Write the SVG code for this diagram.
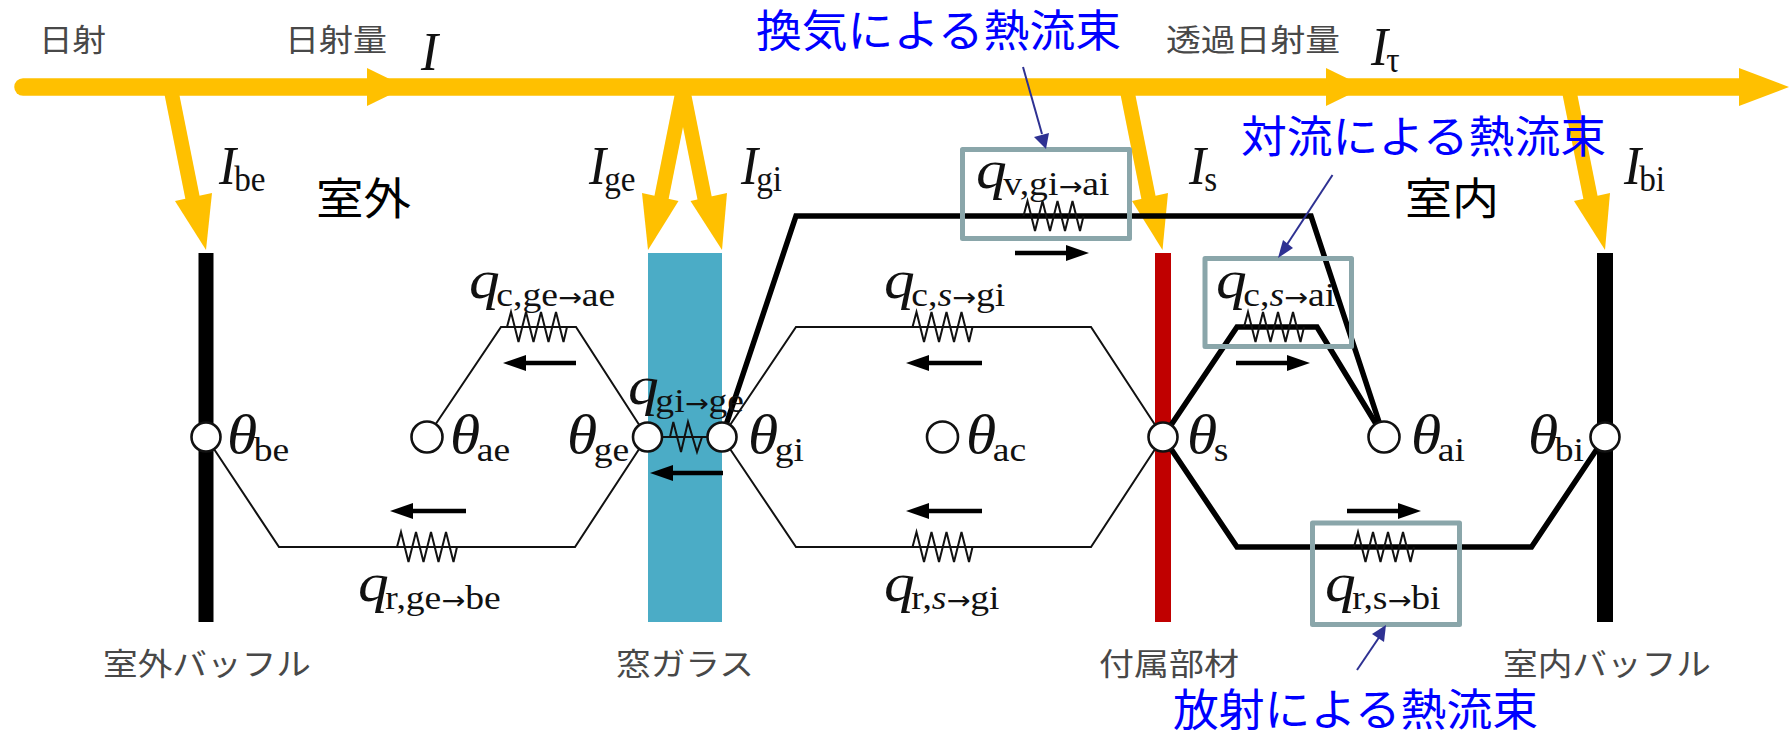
<svg xmlns="http://www.w3.org/2000/svg" width="1789" height="734" viewBox="0 0 1789 734">
<style>
text{font-family:"Liberation Serif",serif;fill:#111}
.m{font-size:54px;font-style:italic}
.mi{font-size:54px;font-style:italic}
.s{font-size:33px;font-style:normal}
.s2{font-size:35px;font-style:normal}
.si{font-style:italic}
.ar{font-family:"DejaVu Sans",sans-serif;font-size:25px;font-weight:400}
.jg{font-family:"Noto Sans CJK JP",sans-serif;font-size:31px;fill:#484848}
.jb{font-family:"Noto Sans CJK JP",sans-serif;font-size:44px;fill:#0000ff}
.jk{font-family:"Noto Sans CJK JP",sans-serif;font-size:44px;fill:#000}
.thin{fill:none;stroke:#111;stroke-width:2}
.thick{fill:none;stroke:#000;stroke-width:5.5}
.res{fill:none;stroke:#111;stroke-width:2}
.flow{fill:none;stroke:#000;stroke-width:4.500;stroke-linecap:butt;marker-end:url(#ah)}
.sun{fill:none;stroke:#ffc000;stroke-width:14.500}
.sunh{fill:#ffc000}
.node{fill:#fff;stroke:#111;stroke-width:2.6}
.box{fill:none;stroke:#8aa6aa;stroke-width:5;stroke-linejoin:round}
.call{fill:none;stroke:#2e3192;stroke-width:2}
.callh{fill:#2e3192}
</style>
<defs>
<marker id="ah" markerUnits="userSpaceOnUse" markerWidth="26" markerHeight="16" refX="1" refY="8" orient="auto"><path d="M0 0L23 8L0 16Z" fill="#000"/></marker>
<path id="r" class="res" d="M-30 0L-26 -15L-18.500 15L-11 -15L-3.500 15L4 -15L11.500 15L19 -15L26.500 15L30 0"/>
<path id="rs" class="res" d="M-16 0L-12.700 -15L-5 15L2 -15L11 15L16 0"/>
</defs>

<g id="solar">
<path d="M23 87H1745" fill="none" stroke="#ffc000" stroke-width="17.500" stroke-linecap="round"/>
<path class="sunh" d="M367 68L406 87L367 106Z"/>
<path class="sunh" d="M1326 68L1365 87L1326 106Z"/>
<path class="sunh" d="M1739 68L1789 87L1739 106Z"/>
<path class="sun" d="M171 90L193 200"/><path class="sunh" d="M175 201L212 193L206 250Z"/>
<path class="sun" d="M683 90L661 200"/><path class="sunh" d="M642 193L678.500 201L648 250Z"/>
<path class="sun" d="M683 90L705 200"/><path class="sunh" d="M690.500 201L727 193L722 250Z"/>
<path class="sun" d="M1127 90L1149 200"/><path class="sunh" d="M1132 201L1168 193L1162.500 250Z"/>
<path class="sun" d="M1569 90L1591 200"/><path class="sunh" d="M1574 201L1610 193L1605 250Z"/>
</g>

<g id="wall-baffle-out"><rect x="198.500" y="253" width="15" height="369" fill="#000"/></g>
<g id="wall-glass"><rect x="648" y="253" width="74" height="369" fill="#4bacc6"/></g>
<g id="wall-attachment"><rect x="1155" y="253" width="16" height="369" fill="#c00000"/></g>
<g id="wall-baffle-in"><rect x="1597" y="253" width="16" height="369" fill="#000"/></g>

<g id="connectors">
<path class="thin" d="M206 437L279 547H575L647 437"/>
<path class="thin" d="M427 437L501 327H576L647 437"/>
<path class="thin" d="M722 437L796 327H1091L1163 437"/>
<path class="thin" d="M722 437L796 547H1091L1163 437"/>
<path class="thin" d="M647 437H722"/>
<path class="thick" d="M1163 437L1237 547H1531.500L1605 437"/>
<path class="thick" d="M1163 437L1237 327H1317L1384 437"/>
<path class="thick" d="M722 437L796 216H1311L1384 437"/>
<use href="#r" x="427" y="547"/>
<use href="#r" x="537" y="327"/>
<use href="#r" x="942.500" y="327"/>
<use href="#r" x="942.500" y="547"/>
<use href="#r" x="1053.500" y="216"/>
<use href="#r" x="1274" y="327"/>
<use href="#r" x="1384" y="547"/>
<use href="#rs" x="686" y="437"/>
<path class="flow" d="M466 511H412"/>
<path class="flow" d="M576 363H525"/>
<path class="flow" d="M982 363H928"/>
<path class="flow" d="M982 511H928"/>
<path class="flow" d="M723 473H672"/>
<path class="flow" d="M1015 253H1067"/>
<path class="flow" d="M1236 363H1288"/>
<path class="flow" d="M1347 511H1399"/>
</g>

<g id="node-be"><circle class="node" cx="206" cy="437" r="14.500"/><text class="m" transform="translate(227,453) scale(1.14,1)">θ<tspan class="s" dx="-3" dy="8">be</tspan></text></g>
<g id="node-ae"><circle class="node" cx="427" cy="437" r="15.500"/><text class="m" transform="translate(450,453) scale(1.14,1)">θ<tspan class="s" dx="-3" dy="8">ae</tspan></text></g>
<g id="node-ge"><circle class="node" cx="647.500" cy="437" r="14.500"/><text class="m" transform="translate(567,453) scale(1.14,1)">θ<tspan class="s" dx="-3" dy="8">ge</tspan></text></g>
<g id="node-gi"><circle class="node" cx="722" cy="437" r="14.500"/><text class="m" transform="translate(748,453) scale(1.14,1)">θ<tspan class="s" dx="-3" dy="8">gi</tspan></text></g>
<g id="node-ac"><circle class="node" cx="942.500" cy="437" r="15.500"/><text class="m" transform="translate(966,453) scale(1.14,1)">θ<tspan class="s" dx="-3" dy="8">ac</tspan></text></g>
<g id="node-s"><circle class="node" cx="1163" cy="437" r="14.500"/><text class="m" transform="translate(1187,453) scale(1.14,1)">θ<tspan class="s" dx="-3" dy="8">s</tspan></text></g>
<g id="node-ai"><circle class="node" cx="1384" cy="437" r="15.500"/><text class="m" transform="translate(1411,453) scale(1.14,1)">θ<tspan class="s" dx="-3" dy="8">ai</tspan></text></g>
<g id="node-bi"><circle class="node" cx="1605" cy="437" r="14.500"/><text class="m" transform="translate(1528,453) scale(1.14,1)">θ<tspan class="s" dx="-3" dy="8">bi</tspan></text></g>

<g id="labels-radiation">
<text class="mi" transform="translate(421,70) scale(0.95,1)">I</text>
<text class="mi" transform="translate(1371,65) scale(0.95,1)">I<tspan class="s2" dx="-2" dy="7">τ</tspan></text>
<text class="mi" transform="translate(219,184) scale(0.95,1)">I<tspan class="s2" dx="-2" dy="7">be</tspan></text>
<text class="mi" transform="translate(589,184) scale(0.95,1)">I<tspan class="s2" dx="-2" dy="7">ge</tspan></text>
<text class="mi" transform="translate(741,184) scale(0.95,1)">I<tspan class="s2" dx="-2" dy="7">gi</tspan></text>
<text class="mi" transform="translate(1189,184) scale(0.95,1)">I<tspan class="s2" dx="-2" dy="7">s</tspan></text>
<text class="mi" transform="translate(1624,184) scale(0.95,1)">I<tspan class="s2" dx="-2" dy="7">bi</tspan></text>
</g>

<g id="labels-heatflow">
<text class="m" transform="translate(469,298) scale(1.14,1)">q<tspan class="s" dx="-3" dy="8">c,ge<tspan class="ar">→</tspan>ae</tspan></text>
<text class="m" transform="translate(358,601) scale(1.14,1)">q<tspan class="s" dx="-3" dy="8">r,ge<tspan class="ar">→</tspan>be</tspan></text>
<text class="m" transform="translate(884,298) scale(1.14,1)">q<tspan class="s" dx="-3" dy="8">c,<tspan class="si">s</tspan><tspan class="ar">→</tspan>gi</tspan></text>
<text class="m" transform="translate(884,601) scale(1.14,1)">q<tspan class="s" dx="-3" dy="8">r,<tspan class="si">s</tspan><tspan class="ar">→</tspan>gi</tspan></text>
<text class="m" transform="translate(976,188) scale(1.14,1)">q<tspan class="s" dx="-3" dy="7">v,gi<tspan class="ar">→</tspan>ai</tspan></text>
<text class="m" transform="translate(1216,298) scale(1.14,1)">q<tspan class="s" dx="-3" dy="8">c,<tspan class="si">s</tspan><tspan class="ar">→</tspan>ai</tspan></text>
<text class="m" transform="translate(1325,601) scale(1.14,1)">q<tspan class="s" dx="-3" dy="8">r,s<tspan class="ar">→</tspan>bi</tspan></text>
<text class="m" transform="translate(628,404) scale(1.14,1)">q<tspan class="s" dx="-3" dy="8">gi<tspan class="ar">→</tspan>ge</tspan></text>
</g>

<g id="captions">
<text class="jg" x="39" y="51" textLength="67" lengthAdjust="spacingAndGlyphs">日射</text>
<text class="jg" x="285" y="51" textLength="102" lengthAdjust="spacingAndGlyphs">日射量</text>
<text class="jg" x="1166" y="51" textLength="174" lengthAdjust="spacingAndGlyphs">透過日射量</text>
<text class="jg" x="103" y="675" textLength="208" lengthAdjust="spacingAndGlyphs">室外バッフル</text>
<text class="jg" x="616" y="675" textLength="138" lengthAdjust="spacingAndGlyphs">窓ガラス</text>
<text class="jg" x="1099" y="675" textLength="140" lengthAdjust="spacingAndGlyphs">付属部材</text>
<text class="jg" x="1503" y="675" textLength="208" lengthAdjust="spacingAndGlyphs">室内バッフル</text>
<text class="jk" x="316" y="215" textLength="95" lengthAdjust="spacingAndGlyphs">室外</text>
<text class="jk" x="1405" y="215" textLength="94" lengthAdjust="spacingAndGlyphs">室内</text>
</g>

<g id="highlight-boxes">
<rect class="box" x="962.500" y="149.500" width="167" height="89"/>
<rect class="box" x="1205" y="258.500" width="146.500" height="88"/>
<rect class="box" x="1312.500" y="523" width="147" height="101.500"/>
</g>

<g id="callouts">
<path class="call" d="M1023 67L1042 134"/><path class="callh" d="M1034 137L1049 133L1046 149Z"/>
<path class="call" d="M1332.500 175L1286 246"/><path class="callh" d="M1278 258L1283 240L1293 248Z"/>
<path class="call" d="M1357 670L1380 636"/><path class="callh" d="M1386 625L1384 642L1372 634Z"/>
<text class="jb" x="756" y="47" textLength="365" lengthAdjust="spacingAndGlyphs">換気による熱流束</text>
<text class="jb" x="1241" y="153" textLength="365" lengthAdjust="spacingAndGlyphs">対流による熱流束</text>
<text class="jb" x="1173" y="726" textLength="365" lengthAdjust="spacingAndGlyphs">放射による熱流束</text>
</g>
</svg>
